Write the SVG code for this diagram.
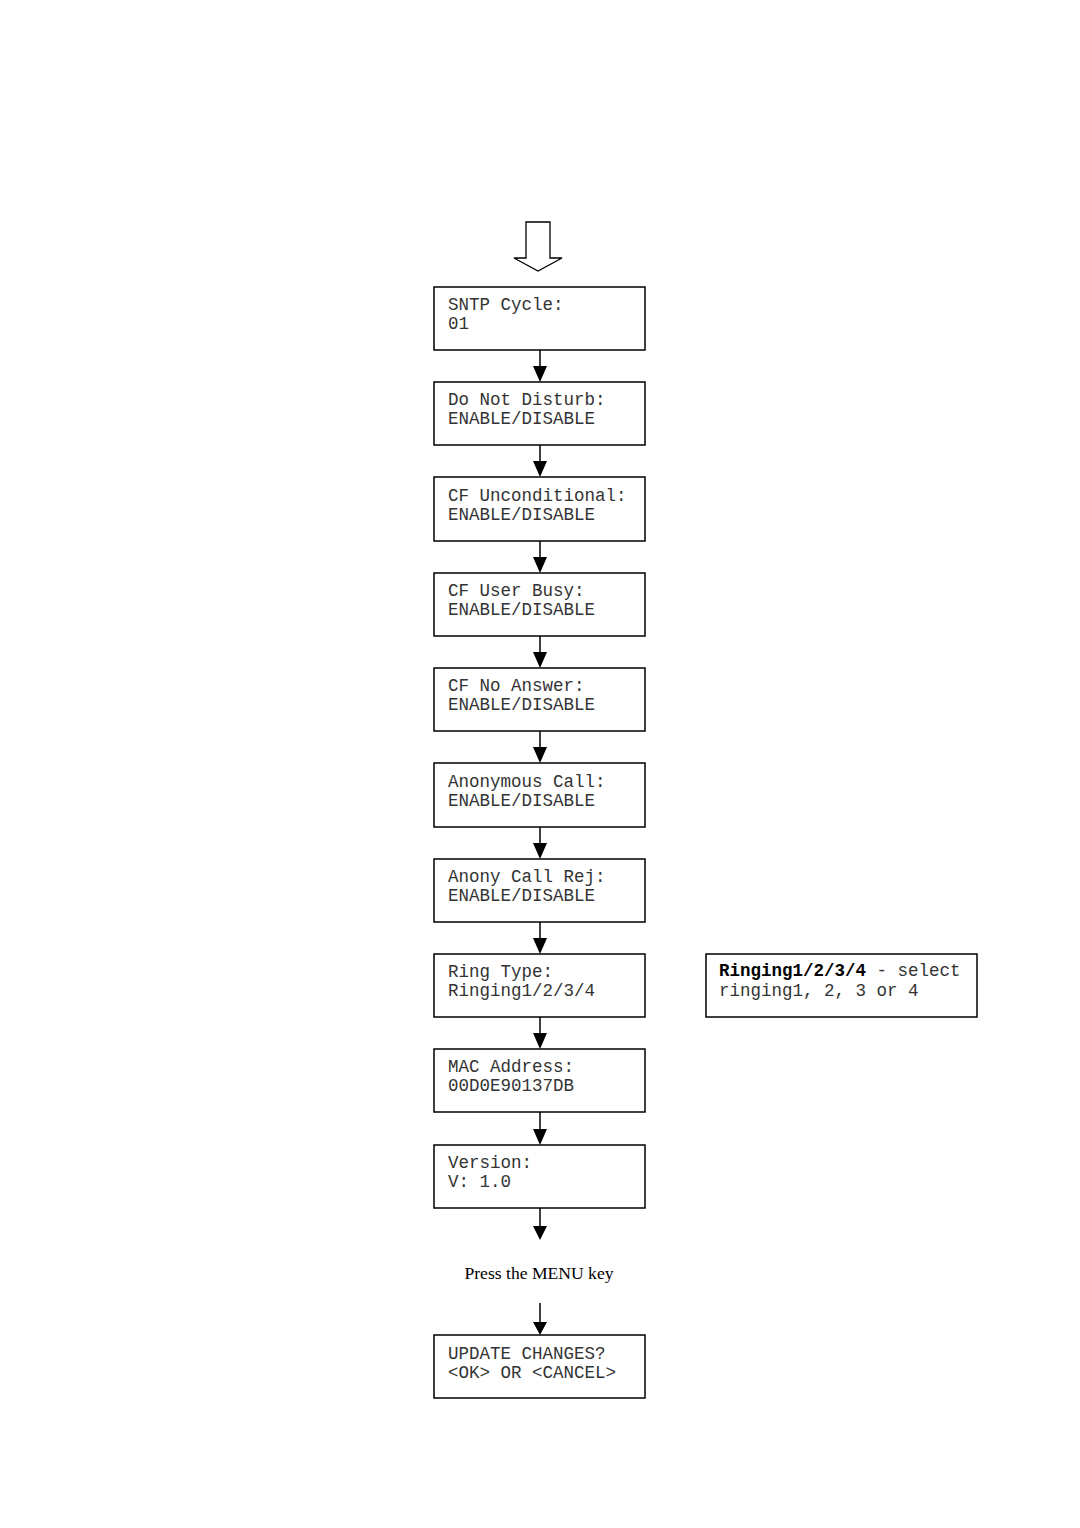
<svg xmlns="http://www.w3.org/2000/svg" width="1080" height="1528" viewBox="0 0 1080 1528">
<style>
.box{fill:#fff;stroke:#000;stroke-width:1.5}
.t{font-family:"Liberation Mono","Courier New",monospace;font-size:17.5px;fill:#333}
.b{font-weight:bold;fill:#000}
.conn{stroke:#000;stroke-width:1.5;fill:none}
.serif{font-family:"Liberation Serif","Times New Roman",serif;font-size:17.6px;fill:#000}
</style>
<rect width="1080" height="1528" fill="#fff"/>
<g id="start-arrow">
<path d="M526,222 L550,222 L550,258 L562,258 L538,271 L514,258 L526,258 Z" fill="#fff" stroke="#000" stroke-width="1.3"/>
</g>
<g id="connectors">
<path class="conn" d="M540,350 V367"/><path d="M533,366 L547,366 L540,382 Z"/>
<path class="conn" d="M540,445 V462"/><path d="M533,461 L547,461 L540,477 Z"/>
<path class="conn" d="M540,541 V558"/><path d="M533,557 L547,557 L540,573 Z"/>
<path class="conn" d="M540,636 V653"/><path d="M533,652 L547,652 L540,668 Z"/>
<path class="conn" d="M540,731 V748"/><path d="M533,747 L547,747 L540,763 Z"/>
<path class="conn" d="M540,827 V844"/><path d="M533,843 L547,843 L540,859 Z"/>
<path class="conn" d="M540,922 V939"/><path d="M533,938 L547,938 L540,954 Z"/>
<path class="conn" d="M540,1017 V1034"/><path d="M533,1033 L547,1033 L540,1049 Z"/>
<path class="conn" d="M540,1112 V1130"/><path d="M533,1129 L547,1129 L540,1145 Z"/>
<path class="conn" d="M540,1208 V1227"/><path d="M533,1226 L547,1226 L540,1240 Z"/>
<path class="conn" d="M540,1303 V1323"/><path d="M533,1322 L547,1322 L540,1335 Z"/>
</g>
<g id="sntp"><rect class="box" x="434" y="287" width="211" height="63"/><text class="t" x="448" y="310">SNTP Cycle:</text><text class="t" x="448" y="329">01</text></g>
<g id="dnd"><rect class="box" x="434" y="382" width="211" height="63"/><text class="t" x="448" y="405">Do Not Disturb:</text><text class="t" x="448" y="424">ENABLE/DISABLE</text></g>
<g id="cfu"><rect class="box" x="434" y="477" width="211" height="64"/><text class="t" x="448" y="501">CF Unconditional:</text><text class="t" x="448" y="520">ENABLE/DISABLE</text></g>
<g id="cfb"><rect class="box" x="434" y="573" width="211" height="63"/><text class="t" x="448" y="596">CF User Busy:</text><text class="t" x="448" y="615">ENABLE/DISABLE</text></g>
<g id="cfn"><rect class="box" x="434" y="668" width="211" height="63"/><text class="t" x="448" y="691">CF No Answer:</text><text class="t" x="448" y="710">ENABLE/DISABLE</text></g>
<g id="anon"><rect class="box" x="434" y="763" width="211" height="64"/><text class="t" x="448" y="787">Anonymous Call:</text><text class="t" x="448" y="806">ENABLE/DISABLE</text></g>
<g id="anonrej"><rect class="box" x="434" y="859" width="211" height="63"/><text class="t" x="448" y="882">Anony Call Rej:</text><text class="t" x="448" y="901">ENABLE/DISABLE</text></g>
<g id="ring"><rect class="box" x="434" y="954" width="211" height="63"/><text class="t" x="448" y="977">Ring Type:</text><text class="t" x="448" y="996">Ringing1/2/3/4</text></g>
<g id="ringnote"><rect class="box" x="706" y="954" width="271" height="63"/><text class="t" x="719" y="976"><tspan class="b">Ringing1/2/3/4</tspan> - select</text><text class="t" x="719" y="996">ringing1, 2, 3 or 4</text></g>
<g id="mac"><rect class="box" x="434" y="1049" width="211" height="63"/><text class="t" x="448" y="1072">MAC Address:</text><text class="t" x="448" y="1091">00D0E90137DB</text></g>
<g id="ver"><rect class="box" x="434" y="1145" width="211" height="63"/><text class="t" x="448" y="1168">Version:</text><text class="t" x="448" y="1187">V: 1.0</text></g>
<g id="press"><text class="serif" x="539" y="1279" text-anchor="middle">Press the MENU key</text></g>
<g id="update"><rect class="box" x="434" y="1335" width="211" height="63"/><text class="t" x="448" y="1359">UPDATE CHANGES?</text><text class="t" x="448" y="1378">&lt;OK&gt; OR &lt;CANCEL&gt;</text></g>
</svg>
